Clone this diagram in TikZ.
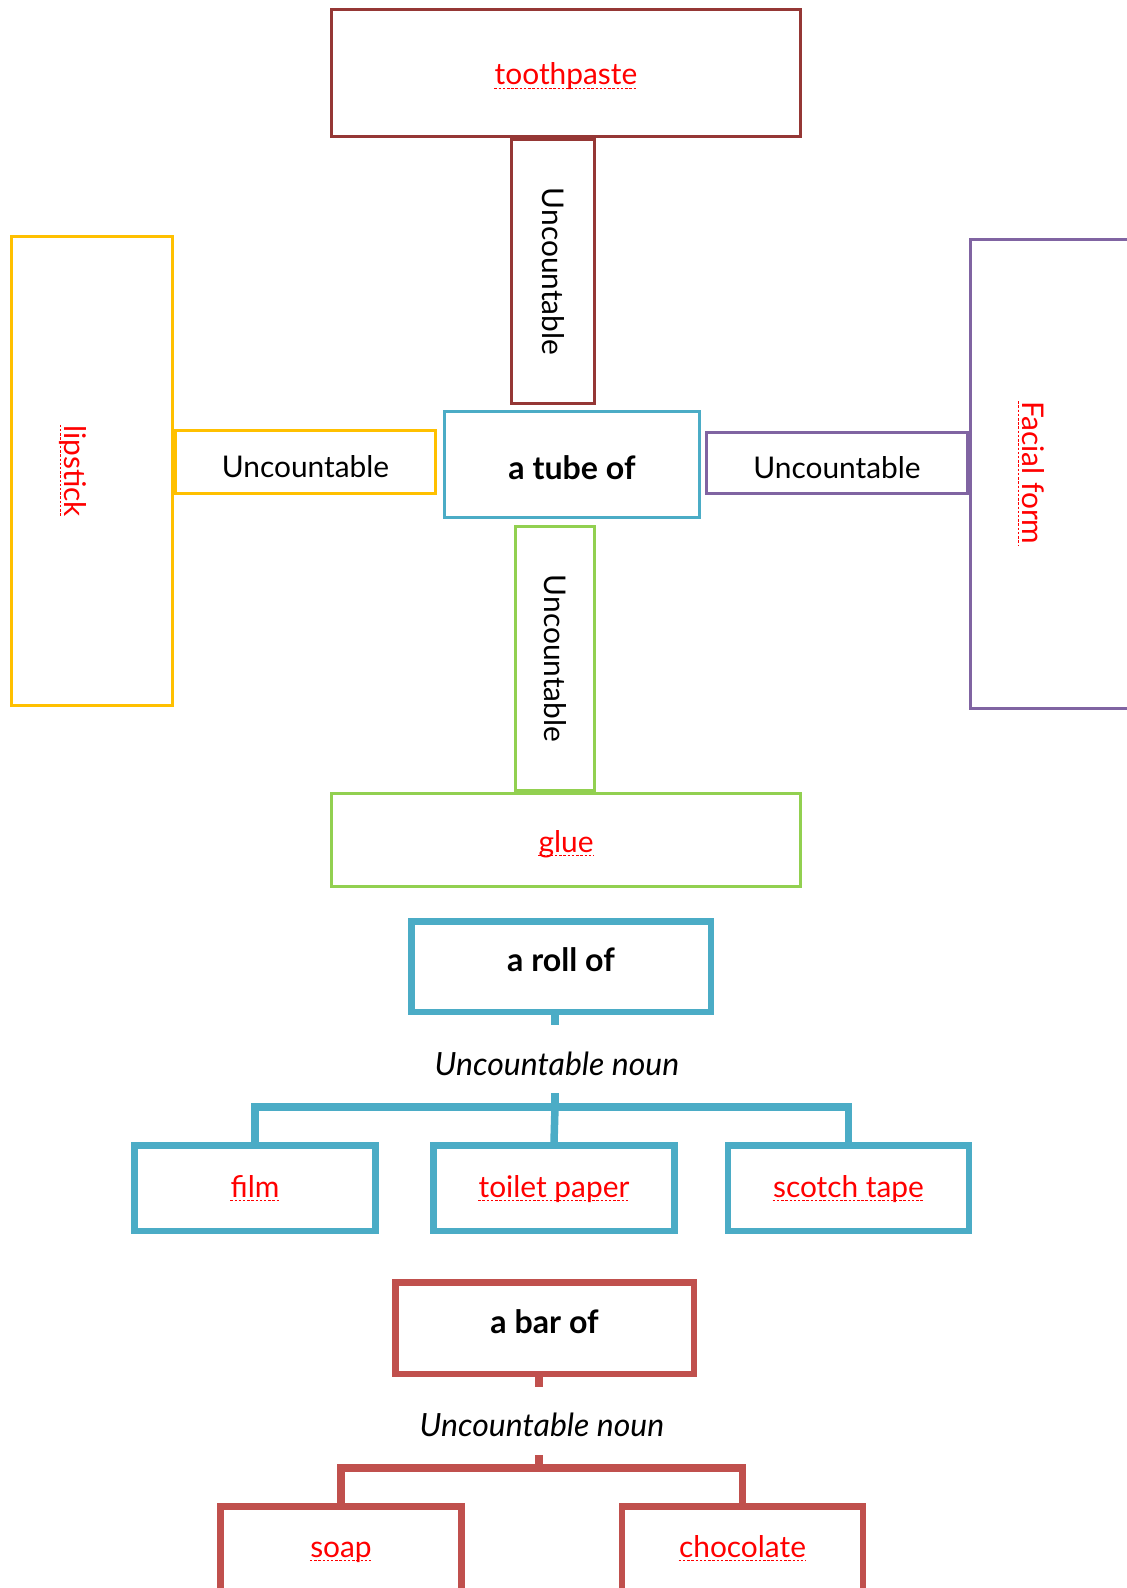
\documentclass[tikz,border=0pt]{standalone}
\usepackage{fontspec}
\setmainfont{Lato}
\usetikzlibrary{calc}

\definecolor{pasteRed}{HTML}{953735}
\definecolor{lipYellow}{HTML}{FFC000}
\definecolor{faceViolet}{HTML}{8064A2}
\definecolor{glueGreen}{HTML}{92D050}
\definecolor{tubeBlue}{HTML}{4BACC6}
\definecolor{barRed}{HTML}{C0504D}
\definecolor{wordRed}{HTML}{FF0000}

\newlength\px
\setlength\px{0.02cm}

\begin{document}
\begin{tikzpicture}[x=1\px,y=-1\px,font=\fontsize{17}{20}\selectfont,
  thinbox/.style={draw,rectangle,line width=2.7\px,inner sep=0pt,align=center},
  thickbox/.style={draw,rectangle,line width=6.5\px,inner sep=0pt,align=center},
  headtext/.style={font=\fontsize{18.3}{22}\selectfont\bfseries},
  nountext/.style={font=\fontsize{18.2}{22}\selectfont\itshape},
  link/.style={line width=7.5\px},
  spellline/.style={draw=wordRed,line width=0.6pt,dash pattern=on 1.4pt off 1pt},
  % red word with the dotted spell-check line under it
  redword/.style={text=wordRed,inner sep=0pt,anchor=base,
    append after command={\pgfextra{\draw[spellline]
      ($(\tikzlastnode.base west)!1.8pt!-90:(\tikzlastnode.base east)$) --
      ($(\tikzlastnode.base east)!1.8pt!90:(\tikzlastnode.base west)$);}}}]
  \useasboundingbox (0,0) rectangle (1126,1588);

  % a tube of (cross)
  \node[thinbox,draw=tubeBlue,minimum width=255\px,minimum height=106\px,headtext,text height=17pt,text depth=0pt] (tube) at (572,464.5) {a tube of};
  \node[thinbox,draw=pasteRed,minimum width=469\px,minimum height=127\px] (paste) at (566,73) {};
  \node[redword] (pastetext) at (566,85) {toothpaste};
  \node[thinbox,draw=pasteRed,rotate=-90,minimum width=264\px,minimum height=83\px] (uncT) at (553,271.5) {Uncountable};
  \node[thinbox,draw=lipYellow,minimum width=161\px,minimum height=469\px] (lip) at (92,471) {};
  \node[redword,rotate=-90] (liptext) at (64,471) {lipstick};
  \node[thinbox,draw=lipYellow,minimum width=260\px,minimum height=63\px,text height=18pt,text depth=0pt] (uncL) at (305.5,462) {Uncountable};
  \node[thinbox,draw=faceViolet,minimum width=261\px,minimum height=61\px,text height=18pt,text depth=0pt] (uncR) at (837,463) {Uncountable};
  \node[thinbox,draw=faceViolet,minimum width=161\px,minimum height=469\px] (face) at (1051,474) {};
  \node[redword,rotate=-90] (facetext) at (1022,473) {Facial form};
  \node[thinbox,draw=glueGreen,rotate=-90,minimum width=264\px,minimum height=79\px] (uncB) at (555,658.5) {Uncountable};
  \node[thinbox,draw=glueGreen,minimum width=469\px,minimum height=93\px] (glue) at (566,840) {};
  \node[redword] (gluetext) at (566,852) {glue};

  % a roll of
  \node[thickbox,draw=tubeBlue,minimum width=299.5\px,minimum height=90.5\px,headtext,text height=12pt,text depth=6pt] (roll) at (561,966.5) {a roll of};
  \node[nountext] (rollnoun) at (557,1064) {Uncountable noun};
  \foreach \n/\t/\x in {film/film/255,toilet/toilet paper/554,scotch/scotch tape/848.5}{
    \node[thickbox,draw=tubeBlue,minimum width=241\px,minimum height=85.5\px] (\n) at (\x,1188) {};
    \node[redword] (\n text) at (\x,1197) {\t};
  }
  \coordinate (rollhub) at (555,1107);
  \draw[link,tubeBlue] (rollhub |- roll.south) -- ++(0,10);
  \draw[link,tubeBlue] (rollhub) -- ++(0,-14);
  \draw[link,tubeBlue] (film.north) -- (film.north |- rollhub) -- (scotch.north |- rollhub) -- (scotch.north);
  \draw[link,tubeBlue] (rollhub) -- (toilet.north);

  % a bar of
  \node[thickbox,draw=barRed,minimum width=298.5\px,minimum height=91.5\px,headtext,text height=12pt,text depth=6pt] (bar) at (544.5,1328) {a bar of};
  \node[nountext] (barnoun) at (542,1425) {Uncountable noun};
  \foreach \n/\t/\x in {soap/soap/341,choc/chocolate/742.5}{
    \node[thickbox,draw=barRed,minimum width=241\px,minimum height=85.5\px] (\n) at (\x,1549) {};
    \node[redword] (\n text) at (\x,1557) {\t};
  }
  \coordinate (barhub) at (539,1468);
  \draw[link,barRed] (barhub |- bar.south) -- ++(0,10);
  \draw[link,barRed] (barhub) -- ++(0,-13);
  \draw[link,barRed] (soap.north) -- (soap.north |- barhub) -- (choc.north |- barhub) -- (choc.north);
\end{tikzpicture}
\end{document}
